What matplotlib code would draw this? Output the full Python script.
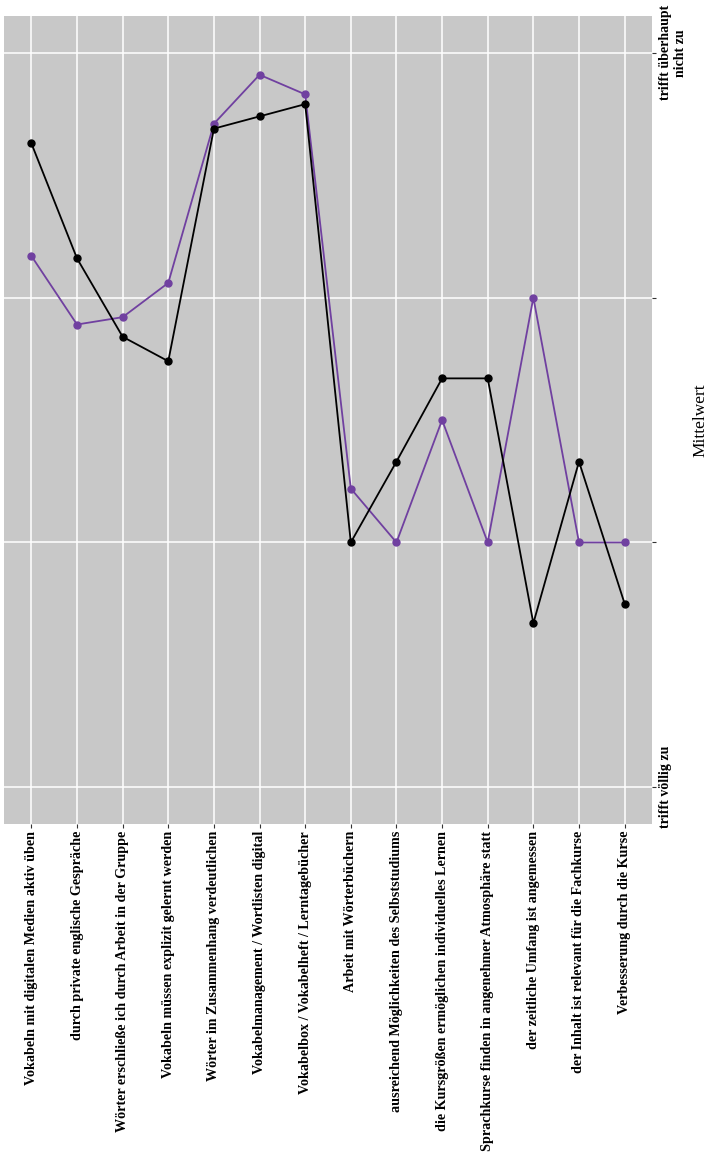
import matplotlib.pyplot as plt
import numpy as np

# items (x axis, labels rotated)
items = [
    "Vokabeln mit digitalen Medien aktiv üben",
    "durch private englische Gespräche",
    "Wörter erschließe ich durch Arbeit in der Gruppe",
    "Vokabeln müssen explizit gelernt werden",
    "Wörter im Zusammenhang verdeutlichen",
    "Vokabelmanagement / Wortlisten digital",
    "Vokabelbox / Vokabelheft / Lerntagebücher",
    "Arbeit mit Wörterbüchern",
    "ausreichend Möglichkeiten des Selbststudiums",
    "die Kursgrößen ermöglichen individuelles Lernen",
    "Sprachkurse finden in angenehmer Atmosphäre statt",
    "der zeitliche Umfang ist angemessen",
    "der Inhalt ist relevant für die Fachkurse",
    "Verbesserung durch die Kurse",
]

# means, 1 = trifft völlig zu ... 4 = trifft überhaupt nicht zu
black_vals = [3.63, 3.16, 2.84, 2.74, 3.69, 3.74, 3.79, 2.0, 2.33, 2.67, 2.67, 1.67, 2.33, 1.75]
purple_vals = [3.17, 2.89, 2.92, 3.06, 3.71, 3.91, 3.83, 2.22, 2.0, 2.5, 2.0, 3.0, 2.0, 2.0]

ytick_vals = [1, 2, 3, 4]
ytick_labels = ["trifft völlig zu", "", "", "trifft überhaupt\nnicht zu"]

plt.rcParams['font.family'] = ['Liberation Serif', 'DejaVu Serif']

fig = plt.figure(figsize=(7.07, 11.67), dpi=100)
ax = fig.add_axes([4 / 707, 1 - 824 / 1167, 648 / 707, 808 / 1167])
ax.set_facecolor('#C8C8C8')

x = np.arange(len(items))
ax.plot(x, purple_vals, color='#7040A0', lw=1.3, marker='o', ms=5, zorder=3)
ax.plot(x, black_vals, color='black', lw=1.3, marker='o', ms=5, zorder=4)

ax.set_xlim(-0.6, len(items) - 1 + 0.6)
ax.set_ylim(0.85, 4.15)

ax.set_xticks(x)
ax.set_xticklabels(items, rotation=90, fontsize=10.2, fontweight='bold', ha='center', va='top')
ax.yaxis.tick_right()
ax.set_yticks(ytick_vals)
ax.set_yticklabels(ytick_labels, rotation=90, fontsize=10, fontweight='bold',
                   va='center', ha='left', multialignment='center')
ax.yaxis.set_label_position('right')
ax.set_ylabel("Mittelwert", fontsize=12.5, rotation=90)
ax.yaxis.set_label_coords(1.062, 0.5)

ax.grid(True, color='white', lw=1.1)
ax.set_axisbelow(True)
ax.tick_params(axis='both', length=3, width=0.8, color='#333333', pad=2)
for s in ax.spines.values():
    s.set_visible(False)

fig.savefig('out.png', dpi=100)
